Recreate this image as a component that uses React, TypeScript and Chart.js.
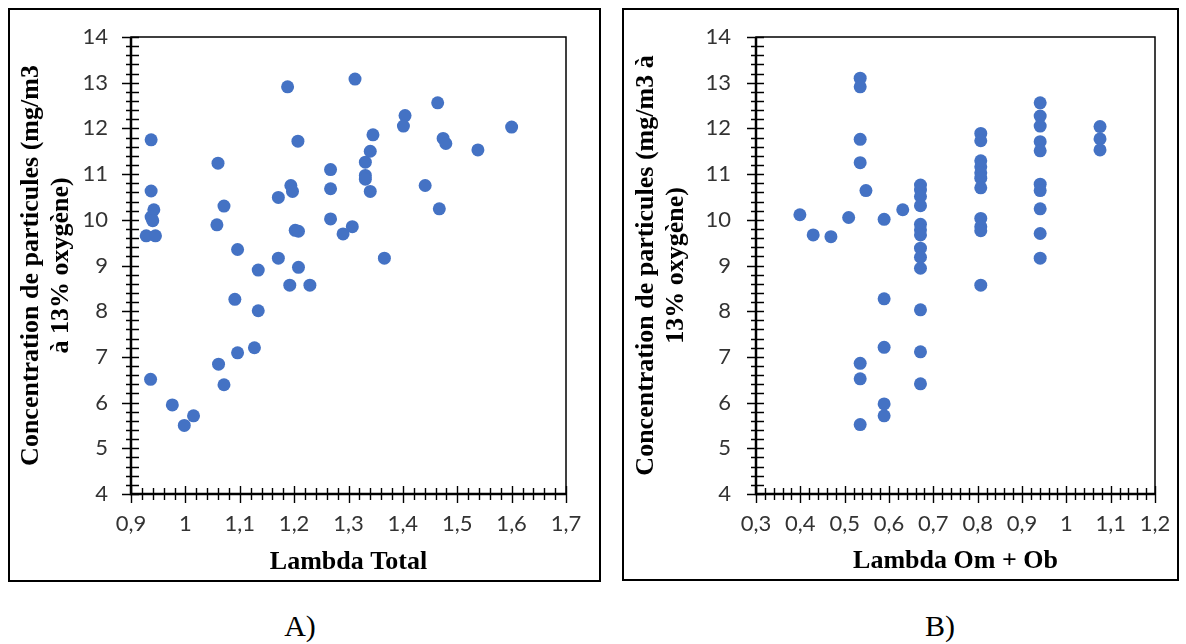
import React, { useEffect, useRef } from 'react';
import { Chart, registerables } from 'chart.js';

Chart.register(...registerables);

// Chart A: Lambda Total vs concentration
const lambdaTotal = [
  0.937, 0.937, 0.942, 0.937, 0.94, 0.928, 0.945, 0.936, 0.976, 0.998, 1.015,
  1.06, 1.058, 1.071, 1.061, 1.071, 1.096, 1.091, 1.096, 1.134, 1.134, 1.127,
  1.171, 1.171, 1.188, 1.194, 1.197, 1.192, 1.207, 1.202, 1.208, 1.208, 1.229,
  1.267, 1.267, 1.267, 1.29, 1.307, 1.312, 1.331, 1.331, 1.331, 1.34, 1.345,
  1.34, 1.366, 1.404, 1.401, 1.441, 1.464, 1.467, 1.474, 1.479, 1.538, 1.6,
];
const concentrationA = [
  11.75, 10.63, 10.22, 10.06, 9.98, 9.65, 9.65, 6.51, 5.95, 5.5, 5.71,
  11.24, 9.89, 10.3, 6.84, 6.39, 9.35, 8.26, 7.09, 8.9, 8.01, 7.2,
  10.49, 9.16, 12.91, 10.75, 10.62, 8.57, 11.72, 9.77, 9.75, 8.96, 8.57,
  11.1, 10.68, 10.02, 9.69, 9.85, 13.08, 11.26, 10.97, 10.89, 11.5, 11.86,
  10.62, 9.16, 12.28, 12.05, 10.75, 12.56, 10.24, 11.78, 11.67, 11.53, 12.03,
];

// Chart B: Lambda Om + Ob vs concentration
const lambdaOmOb = [
  0.535, 0.535, 0.535, 0.535, 0.535, 0.535, 0.535,
  0.548, 0.399, 0.429, 0.469, 0.509,
  0.589, 0.589, 0.589, 0.589, 0.589,
  0.631,
  0.671, 0.671, 0.671, 0.671, 0.671, 0.671, 0.671, 0.671, 0.671, 0.671, 0.671, 0.671, 0.671,
  0.807, 0.807, 0.807, 0.807, 0.807, 0.807, 0.807, 0.807, 0.807, 0.807, 0.807,
  0.941, 0.941, 0.941, 0.941, 0.941, 0.941, 0.941, 0.941, 0.941, 0.941,
  1.076, 1.076, 1.076,
];
const concentrationB = [
  13.1, 12.91, 11.76, 11.25, 6.86, 6.52, 5.52,
  10.64, 10.11, 9.67, 9.63, 10.05,
  10.01, 8.27, 7.21, 5.97, 5.71,
  10.22,
  10.76, 10.65, 10.51, 10.31, 9.9, 9.78, 9.67, 9.38, 9.18, 8.94, 8.03, 7.11, 6.41,
  11.89, 11.73, 11.29, 11.16, 11.03, 10.91, 10.7, 10.03, 9.85, 9.76, 8.57,
  12.56, 12.27, 12.05, 11.71, 11.51, 10.78, 10.64, 10.24, 9.7, 9.16,
  12.04, 11.77, 11.53,
];

const yTitleA = ['Concentration de particules (mg/m3', 'à 13% oxygène)'];
const yTitleB = ['Concentration de particules (mg/m3 à', '13% oxygène)'];
const xTitleA = 'Lambda Total';
const xTitleB = 'Lambda Om + Ob';

const crossTicks = {
  id: 'crossTicks',
  afterDraw(chart: any, _args: any, opts: any) {
    const { ctx, chartArea: a, scales } = chart;
    const x = scales.x;
    const y = scales.y;
    ctx.save();
    ctx.strokeStyle = '#000';
    ctx.lineWidth = 1.5;
    ctx.strokeRect(a.left, a.top, a.right - a.left, a.bottom - a.top);
    ctx.lineWidth = 2.5;
    ctx.beginPath();
    ctx.moveTo(a.left, a.top);
    ctx.lineTo(a.left, a.bottom);
    ctx.lineTo(a.right, a.bottom);
    ctx.stroke();
    ctx.lineWidth = 1.4;
    ctx.beginPath();
    const yStep = opts.yMinor;
    const ny = Math.round((y.max - y.min) / yStep);
    for (let i = 0; i <= ny; i++) {
      const py = Math.round(y.getPixelForValue(y.min + i * yStep)) + 0.5;
      const major = i % opts.yPer === 0;
      ctx.moveTo(a.left - (major ? 9 : 5), py);
      ctx.lineTo(a.left + 8, py);
    }
    const xStep = opts.xMinor;
    const nx = Math.round((x.max - x.min) / xStep);
    for (let i = 0; i <= nx; i++) {
      const px = Math.round(x.getPixelForValue(x.min + i * xStep)) + 0.5;
      const major = i % opts.xPer === 0;
      ctx.moveTo(px, a.bottom + (major ? 9 : 6));
      ctx.lineTo(px, a.bottom - (major ? 8 : 6));
    }
    ctx.stroke();
    ctx.restore();
  },
};

function fmt(v: number) {
  const s = (Math.round(v * 10) / 10).toFixed(1);
  return (s.endsWith('.0') ? s.slice(0, -2) : s).replace('.', ',');
}

type Props = {
  xs: number[];
  ys: number[];
  xMin: number;
  xMax: number;
  yTitle: string[];
  xTitle: string;
  width: number;
  height: number;
  left: number;
  right: number;
  top: number;
  bottom: number;
  yTitlePad: number;
  yTickPad: number;
};

function Scatter(p: Props) {
  const ref = useRef<HTMLCanvasElement | null>(null);
  useEffect(() => {
    if (!ref.current) return;
    const data = p.xs.map((x, i) => ({ x, y: p.ys[i] }));
    const chart = new Chart(ref.current, {
      type: 'scatter',
      data: {
        datasets: [
          {
            data,
            backgroundColor: '#4472C4',
            borderColor: '#4472C4',
            borderWidth: 0,
            pointRadius: 6.5,
          },
        ],
      },
      options: {
        responsive: false,
        animation: false,
        layout: { padding: { left: 0, top: p.top, right: p.width - p.right, bottom: 0 } },
        plugins: {
          legend: { display: false },
          tooltip: { enabled: false },
          crossTicks: { xMinor: 0.02, xPer: 5, yMinor: 0.2, yPer: 5 },
        } as any,
        scales: {
          x: {
            type: 'linear',
            min: p.xMin,
            max: p.xMax,
            grid: { display: false, drawTicks: false, tickLength: 0 },
            border: { display: false },
            ticks: {
              stepSize: 0.1,
              padding: 17,
              color: '#333',
              font: { family: 'Lato', size: 22 },
              callback: (v: any) => fmt(Number(v)),
              maxRotation: 0,
              autoSkip: false,
            },
            title: {
              display: true,
              text: p.xTitle,
              color: '#000',
              font: { family: '"Liberation Serif", "Times New Roman", serif', size: 26, weight: 'bold', lineHeight: 1.15 },
              padding: { top: 0, bottom: 5 },
            },
            afterFit: (s: any) => {
              s.height = p.height - p.bottom;
              s.paddingLeft = 0;
              s.paddingRight = 0;
              s.paddingTop = 0;
              s.paddingBottom = 0;
            },
          },
          y: {
            type: 'linear',
            min: 4,
            max: 14,
            grid: { display: false, drawTicks: false, tickLength: 0 },
            border: { display: false },
            ticks: {
              stepSize: 1,
              padding: p.yTickPad,
              color: '#333',
              font: { family: 'Lato', size: 22 },
              callback: (v: any) => String(Math.round(Number(v))),
            },
            title: {
              display: true,
              text: p.yTitle,
              color: '#000',
              font: { family: '"Liberation Serif", "Times New Roman", serif', size: 26, weight: 'bold', lineHeight: 1.15 },
              padding: { top: p.yTitlePad, bottom: 0 },
            },
            afterFit: (s: any) => {
              s.width = p.left;
              s.paddingLeft = 0;
              s.paddingRight = 0;
              s.paddingTop = 0;
              s.paddingBottom = 0;
            },
          },
        },
      } as any,
      plugins: [crossTicks as any],
    });
    return () => chart.destroy();
  }, []);
  return <canvas ref={ref} width={p.width} height={p.height} style={{ position: 'absolute', left: -2, top: -2 }} />;
}

export default function App() {
  const box: React.CSSProperties = {
    position: 'absolute',
    top: 8,
    border: '2px solid #000',
    boxSizing: 'border-box',
    background: '#fff',
  };
  const cap: React.CSSProperties = {
    position: 'absolute',
    top: 608,
    width: 80,
    textAlign: 'center',
    fontFamily: '"Liberation Serif", "Times New Roman", serif',
    fontSize: 30,
    lineHeight: '36px',
    color: '#000',
  };
  return (
    <div style={{ position: 'absolute', left: 0, top: 0, width: 1186, height: 644, background: '#fff' }}>
      <div style={{ ...box, left: 8, width: 593, height: 574 }}>
        <Scatter
          xs={lambdaTotal}
          ys={concentrationA}
          xMin={0.9}
          xMax={1.7}
          yTitle={yTitleA}
          xTitle={xTitleA}
          width={593}
          height={574}
          left={123}
          right={558}
          top={29}
          bottom={486}
          yTitlePad={8}
          yTickPad={23}
        />
      </div>
      <div style={{ ...box, left: 622, width: 557, height: 573 }}>
        <Scatter
          xs={lambdaOmOb}
          ys={concentrationB}
          xMin={0.3}
          xMax={1.2}
          yTitle={yTitleB}
          xTitle={xTitleB}
          width={557}
          height={573}
          left={134}
          right={533}
          top={29}
          bottom={486}
          yTitlePad={9}
          yTickPad={25}
        />
      </div>
      <div style={{ ...cap, left: 260 }}>A)</div>
      <div style={{ ...cap, left: 900 }}>B)</div>
    </div>
  );
}
